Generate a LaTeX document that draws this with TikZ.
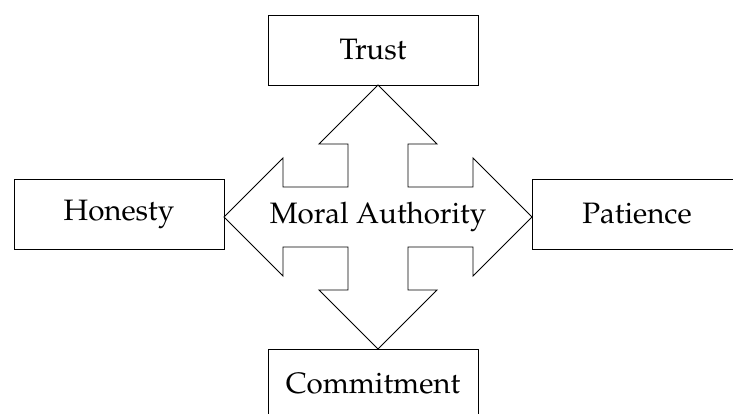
\documentclass[tikz,border=0pt]{standalone}
\usepackage[T1]{fontenc}
\usepackage{mathpazo}
\usepackage{tikz}
\usetikzlibrary{positioning}

\tikzset{
	box/.style={draw=black, line width=0.6pt, minimum width=5.25cm, minimum height=1.75cm, font=\fontsize{21}{25}\selectfont},
	cross/.style={draw=black, line width=0.6pt, line join=miter},
}

\begin{document}
\begin{tikzpicture}[x=0.025cm,y=-0.025cm]
		\useasboundingbox (0,0) rectangle (733,414);
		
		\node[font=\fontsize{21}{25}\selectfont] (ma) at (378,217) {Moral Authority};
		
		\node[box] (trust) at (373,50) {Trust};
		\node[box] (hon) at (119,214) {Honesty};
		\node[box] (pat) at (637,214) {Patience};
		\node[box] (com) at (373,384) {Commitment};
		
		% four-headed arrow round the centre text
		\draw[cross, shift={(ma.center)}] (0,-132)--(59,-73)--(30,-73)--(30,-30)--(95,-30)--(95,-59)--(154,0)--(95,59)--(95,30)--(30,30)--(30,73)--(59,73)--(0,132)--(-59,73)--(-30,73)--(-30,30)--(-95,30)--(-95,59)--(-154,0)--(-95,-59)--(-95,-30)--(-30,-30)--(-30,-73)--(-59,-73)--cycle;
	\end{tikzpicture}
\end{document}
